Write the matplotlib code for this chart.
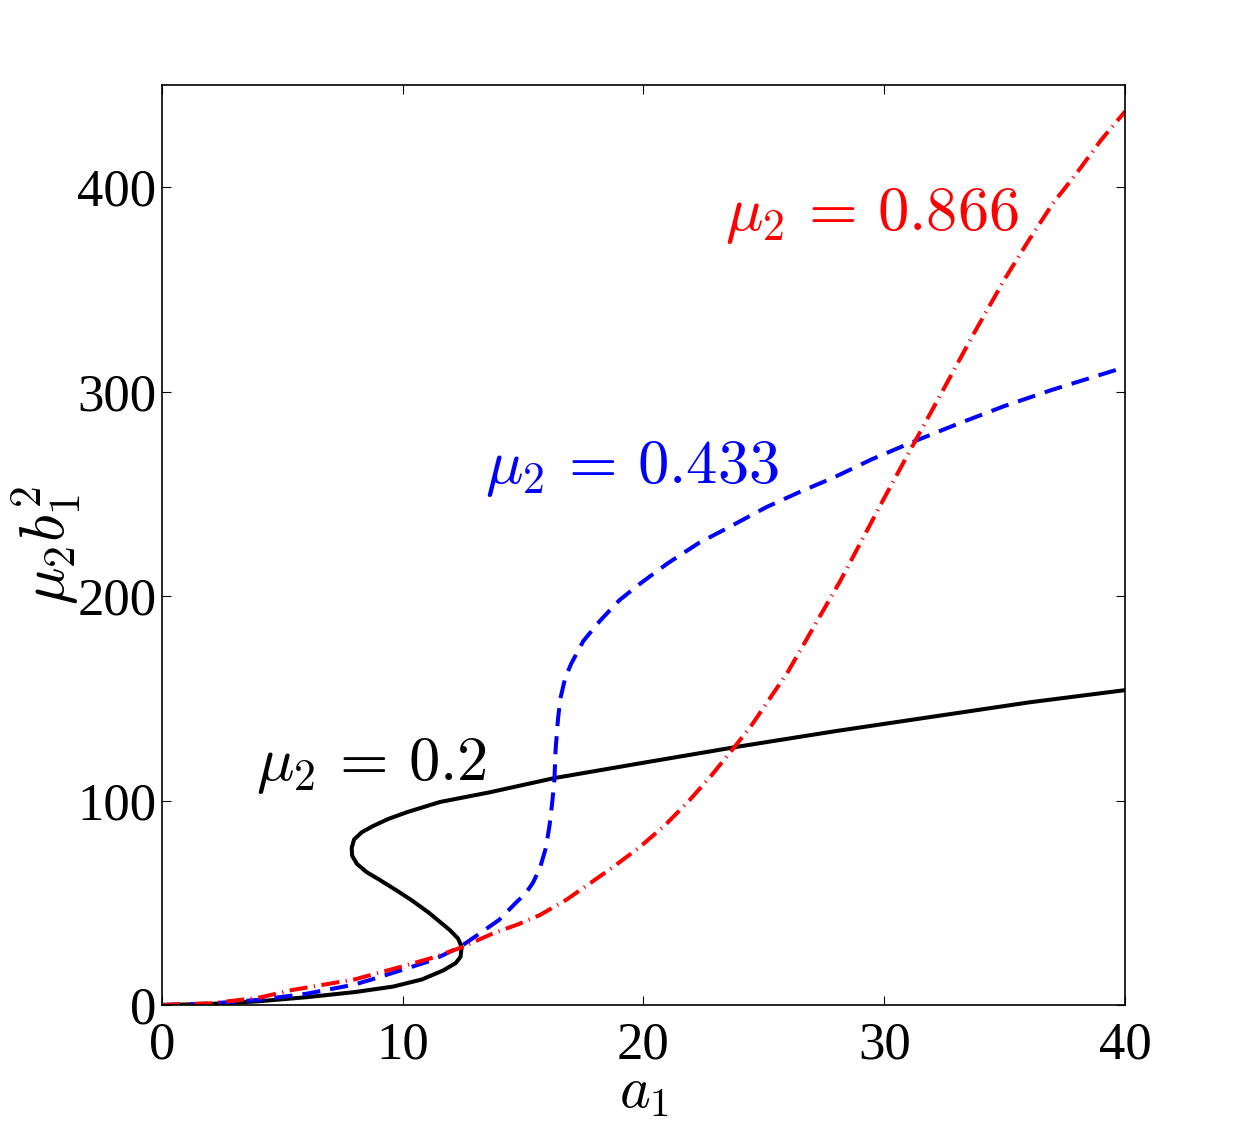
import matplotlib
matplotlib.use("Agg")
from matplotlib import pyplot as plt

# mu2 = 0.2 (S-shaped, multi-valued in a1)
black_a1 = [0, 2, 4, 6, 8, 9.6, 10.8, 11.7, 12.2, 12.4, 12.45, 12.3, 11.95, 11.1, 10.4,
            9.75, 9.0, 8.5, 8.1, 7.9, 7.88, 7.98, 8.3, 8.76, 9.4, 10.2, 11.55, 13.6, 16.3,
            20, 24, 28, 32, 36, 40]
black_y = [0, 0.5, 1.8, 3.8, 6.3, 9.0, 12.5, 17, 20.5, 23.5, 28.4, 32.5, 36.7, 45, 51,
           56, 61.5, 65, 69, 73, 76.8, 81, 84.5, 87.5, 91, 94.4, 99.3, 104, 111,
           118.5, 126.5, 134, 141, 148, 154]

# mu2 = 0.433
blue_a1 = [0, 2, 4, 6, 8, 9, 10.2, 11.25, 12.4, 13.2, 14.0, 14.7, 15.1, 15.4, 15.7,
           15.95, 16.1, 16.2, 16.3, 16.35, 16.45, 16.55, 16.75, 17.0, 17.5, 18.2, 19.0,
           19.85, 21, 22.3, 23.6, 25.1, 26.5, 27.9, 29.5, 31.1, 33, 35, 37, 40]
blue_y = [0, 0.7, 2.5, 5.5, 10, 13.5, 18, 22, 28.5, 35, 41.6, 50, 54.5, 59.6, 67,
          77, 88, 98, 110, 125, 140, 150, 160, 167, 178, 188, 198,
          206, 216, 226, 234, 243.5, 251, 258, 267, 275, 284, 293, 301, 312]

# mu2 = 0.866
red_a1 = [0, 2, 4, 5.4, 8, 9.9, 11.2, 12.4, 13.75, 14.8, 15.7, 16.8, 17.8, 18.8, 19.85,
          20.9, 21.9, 22.8, 23.7, 24.5, 26, 28.2, 30, 31.2, 32.5, 33.7, 35, 36, 37, 38,
          39, 40]
red_y = [0, 0.8, 3.5, 7.3, 12.5, 18.6, 23, 28, 35, 39.5, 44, 51.5, 59.7, 68, 77.3,
         88, 100, 112, 125, 137, 163, 208, 248, 274, 302, 328, 355, 374, 392, 407,
         423, 437]

xticks = [0, 10, 20, 30, 40]
yticks = [0, 100, 200, 300, 400]

plt.rcParams["mathtext.fontset"] = "cm"
plt.rcParams["font.family"] = ["Liberation Serif", "DejaVu Serif"]

fig = plt.figure(figsize=(12.42, 11.32), dpi=100)
ax = fig.add_axes([0.1304, 0.1122, 0.7754, 0.8127])

ax.plot(black_a1, black_y, color="black", lw=2.9, solid_joinstyle="round")
ax.plot(blue_a1, blue_y, color="blue", lw=2.9, dashes=(4.5, 2.5))
ax.plot(red_a1, red_y, color="red", lw=2.9, dashes=(4.5, 1.6, 0.3, 1.6))

ax.text(3.9, 117, r"$\mu_2\,=\,0.2$", color="black", fontsize=45, va="center")
ax.text(13.4, 262, r"$\mu_2\,=\,0.433$", color="blue", fontsize=45, va="center")
ax.text(23.4, 386, r"$\mu_2\,=\,0.866$", color="red", fontsize=45, va="center")

ax.set_xlim(0, 40)
ax.set_ylim(0, 450)
ax.set_xticks(xticks)
ax.set_yticks(yticks)
ax.tick_params(direction="in", length=6.5, width=0.8, top=True, right=True,
               labelsize=38)
ax.tick_params(axis="x", pad=12)
ax.tick_params(axis="y", pad=4)
ax.set_xlabel(r"$a_1$", fontsize=42, labelpad=-2)
ax.set_ylabel(r"$\mu_2 b_1^2$", fontsize=45, labelpad=-5)
for s in ax.spines.values():
    s.set_linewidth(1.2)

fig.savefig("out.png", dpi=100)
